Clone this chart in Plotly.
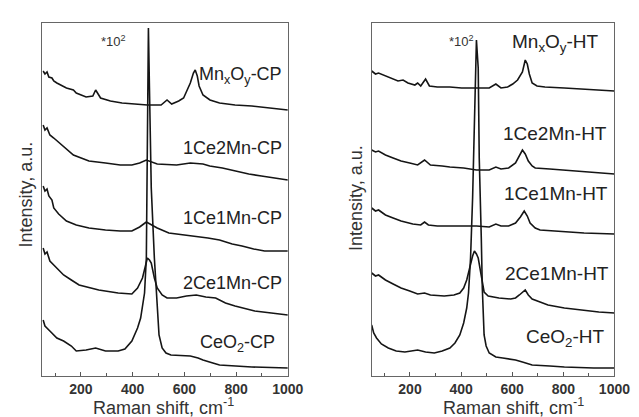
import plotly.graph_objects as go

# ---------------- data (Raman shift in cm-1, intensity in arbitrary offset units) ----------------
# Left panel (CP samples)
mn_cp_x = [54, 61, 69, 76, 88, 95, 107, 144, 171, 182, 220, 246, 257, 269, 276, 314, 359, 408, 457, 510,
           533, 551, 578, 597, 612, 623, 635, 642, 650, 657, 672, 699, 736, 796, 861, 936, 1000]
mn_cp_y = [305, 302, 304, 299, 298, 295, 293, 288, 286, 283, 279, 280, 286, 280, 278, 275, 273, 272, 271, 271,
           276, 272, 275, 278, 286, 293, 303, 306, 300, 290, 281, 276, 273, 271, 270, 268, 266]

ce2mn_cp_x = [54, 61, 69, 80, 95, 118, 144, 171, 201, 231, 295, 352, 397, 427, 453, 472, 495, 570, 623, 672,
              698, 747, 796, 849, 898, 955, 1000]
ce2mn_cp_y = [251, 246, 248, 241, 238, 233, 227, 221, 218, 215, 213, 211, 211, 213, 216, 214, 212, 211, 213, 212,
              210, 208, 205, 202, 200, 198, 196]

ce1mn_cp_x = [54, 61, 69, 76, 88, 95, 114, 144, 182, 231, 295, 352, 397, 427, 453, 472, 495, 540, 597, 646,
              691, 736, 785, 823, 868, 910, 1000]
ce1mn_cp_y = [190, 185, 187, 180, 176, 168, 162, 155, 151, 148, 146, 145, 145, 149, 154, 151, 148, 143, 141, 140,
              138, 136, 132, 130, 127, 125, 125]

ce2mn1_cp_x = [54, 61, 69, 80, 95, 133, 163, 193, 269, 344, 397, 419, 438, 449, 457, 465, 472, 484, 495, 514,
               533, 570, 608, 646, 683, 721, 759, 796, 872, 936, 1000]
ce2mn1_cp_y = [128, 122, 124, 115, 111, 101, 96, 91, 86, 83, 82, 88, 98, 110, 118, 116, 113, 98, 88, 81,
               78, 78, 80, 81, 79, 78, 73, 70, 65, 63, 61]

ceo2_cp_x = [54, 61, 80, 107, 133, 163, 182, 220, 257, 295, 344, 370, 397, 419, 431, 438, 446, 453, 457, 461,
             465, 472, 484, 495, 502, 514, 529, 548, 623, 653, 672, 710, 736, 861, 1000]
ceo2_cp_y = [56, 50, 45, 38, 35, 30, 25, 26, 28, 25, 25, 27, 35, 48, 58, 68, 83, 118, 218, 348,
             288, 188, 118, 68, 41, 28, 23, 21, 20, 18, 16, 13, 11, 9, 8]

# Right panel (HT samples)
mn_ht_x = [50, 65, 77, 104, 134, 153, 173, 192, 219, 230, 242, 261, 276, 307, 356, 402, 448, 510, 536, 556,
           582, 602, 621, 640, 651, 659, 667, 678, 697, 728, 804, 881, 931, 1000]
mn_ht_y = [305, 302, 303, 300, 297, 295, 296, 293, 291, 293, 290, 297, 290, 289, 289, 288, 288, 288, 292, 288,
           289, 292, 296, 304, 316, 312, 302, 293, 290, 289, 288, 287, 286, 285]

ce2mn_ht_x = [50, 65, 77, 104, 134, 165, 199, 230, 257, 280, 326, 356, 410, 460, 510, 536, 556, 586, 613, 628,
              640, 651, 663, 678, 690, 747, 804, 881, 1000]
ce2mn_ht_y = [226, 224, 225, 221, 218, 215, 213, 211, 216, 211, 210, 209, 208, 206, 206, 209, 207, 208, 213, 220,
              226, 222, 215, 210, 208, 207, 206, 204, 202]

ce1mn_ht_x = [50, 65, 77, 104, 134, 165, 211, 242, 257, 272, 307, 356, 410, 460, 510, 536, 556, 586, 613, 632,
              647, 659, 670, 690, 709, 766, 804, 881, 1000]
ce1mn_ht_y = [168, 165, 166, 161, 158, 155, 152, 151, 154, 151, 150, 150, 150, 150, 149, 152, 150, 150, 153, 159,
              165, 160, 153, 148, 146, 145, 144, 143, 142]

ce2mn1_ht_x = [50, 65, 77, 104, 134, 165, 199, 230, 257, 280, 334, 372, 395, 410, 422, 433, 445, 452, 460, 467,
               475, 483, 490, 506, 548, 594, 613, 628, 644, 651, 663, 678, 709, 740, 804, 870, 939, 1000]
ce2mn1_ht_y = [103, 100, 101, 96, 92, 88, 85, 82, 83, 81, 80, 81, 83, 88, 96, 108, 120, 125, 122, 118,
               106, 92, 84, 80, 78, 77, 78, 81, 85, 86, 81, 77, 74, 71, 68, 66, 64, 63]

ceo2_ht_x = [50, 58, 69, 88, 115, 146, 180, 203, 230, 261, 295, 326, 356, 376, 395, 410, 422, 429, 437, 445,
             452, 460, 467, 471, 479, 483, 490, 498, 510, 536, 563, 613, 640, 678, 747, 804, 919, 1000]
ceo2_ht_y = [51, 43, 38, 32, 28, 25, 24, 25, 26, 24, 23, 25, 28, 33, 41, 53, 68, 83, 118, 178,
             268, 336, 308, 218, 138, 88, 41, 30, 23, 19, 18, 16, 14, 11, 10, 9, 8, 8]

left_names = ["Mn<sub>x</sub>O<sub>y</sub>-CP", "1Ce2Mn-CP", "1Ce1Mn-CP", "2Ce1Mn-CP", "CeO<sub>2</sub>-CP"]
right_names = ["Mn<sub>x</sub>O<sub>y</sub>-HT", "1Ce2Mn-HT", "1Ce1Mn-HT", "2Ce1Mn-HT", "CeO<sub>2</sub>-HT"]
x_ticks = [200, 400, 600, 800, 1000]

left_series = [(mn_cp_x, mn_cp_y), (ce2mn_cp_x, ce2mn_cp_y), (ce1mn_cp_x, ce1mn_cp_y),
               (ce2mn1_cp_x, ce2mn1_cp_y), (ceo2_cp_x, ceo2_cp_y)]
right_series = [(mn_ht_x, mn_ht_y), (ce2mn_ht_x, ce2mn_ht_y), (ce1mn_ht_x, ce1mn_ht_y),
                (ce2mn1_ht_x, ce2mn1_ht_y), (ceo2_ht_x, ceo2_ht_y)]

# ---------------- figure ----------------
W, H = 639, 417
FONT = "Liberation Sans, Arial, sans-serif"
fig = go.Figure()
for (xs, ys) in left_series:
    fig.add_trace(go.Scatter(x=xs, y=ys, mode="lines", xaxis="x", yaxis="y",
                             line=dict(color="#151515", width=1.6), showlegend=False, hoverinfo="skip"))
for (xs, ys) in right_series:
    fig.add_trace(go.Scatter(x=xs, y=ys, mode="lines", xaxis="x2", yaxis="y2",
                             line=dict(color="#151515", width=1.6), showlegend=False, hoverinfo="skip"))

def px(p):
    return p / W

def py(p):
    return 1 - p / H

xaxis_common = dict(range=[50, 1000], tickvals=x_ticks, ticks="inside", ticklen=4, tickcolor="#555",
                    showline=True, mirror=True, linecolor="#666", linewidth=1, showgrid=False, zeroline=False,
                    tickfont=dict(family=FONT, size=14, color="#333", weight="bold"),
                    minor=dict(dtick=100, tick0=0, ticks="inside", ticklen=3, tickcolor="#555"),
                    fixedrange=True)
yaxis_common = dict(range=[0, 353], showticklabels=False, ticks="", showline=True, mirror=True,
                    linecolor="#666", linewidth=1, showgrid=False, zeroline=False, fixedrange=True)

fig.update_layout(
    width=W, height=H, margin=dict(l=0, r=0, t=0, b=0),
    paper_bgcolor="white", plot_bgcolor="white",
    xaxis=dict(domain=[px(35), px(287)], anchor="y", **xaxis_common),
    yaxis=dict(domain=[py(368), py(15)], anchor="x", **yaxis_common),
    xaxis2=dict(domain=[px(373), px(622)], anchor="y2", **xaxis_common),
    yaxis2=dict(domain=[py(368), py(15)], anchor="x2", **yaxis_common),
)

ann = []
lab_font_l = dict(family=FONT, size=18, color="#222")
lab_font_r = dict(family=FONT, size=19, color="#222")
# left labels (right edge x, centre y)
for name, xr, yc in zip(left_names, [985, 985, 985, 985, 959], [301, 228, 158, 93, 33]):
    ann.append(dict(x=xr, y=yc, xref="x", yref="y", text=name, showarrow=False, xanchor="right",
                    yanchor="middle", font=lab_font_l))
for name, xr, yc in zip(right_names, [946, 977, 981, 988, 969], [333, 243, 183, 103, 38]):
    ann.append(dict(x=xr, y=yc, xref="x2", yref="y2", text=name, showarrow=False, xanchor="right",
                    yanchor="middle", font=lab_font_r))
ann.append(dict(x=px(108), y=py(33), xref="paper", yref="paper", text="*10<sup>2</sup>", showarrow=False,
                xanchor="center", yanchor="middle", font=dict(family=FONT, size=13, color="#333")))
ann.append(dict(x=px(480), y=py(33), xref="paper", yref="paper", text="*10<sup>2</sup>", showarrow=False,
                xanchor="right", yanchor="middle", font=dict(family=FONT, size=13, color="#333")))
# axis titles
for xc in [160, 518]:
    ann.append(dict(x=px(xc), y=py(398), xref="paper", yref="paper", text="Raman shift, cm<sup>-1</sup>",
                    showarrow=False, xanchor="center", yanchor="middle",
                    font=dict(family=FONT, size=18, color="#333")))
for xc, yc in [(18, 187), (357, 190)]:
    ann.append(dict(x=px(xc), y=py(yc), xref="paper", yref="paper", text="Intensity, a.u.", textangle=-90,
                    showarrow=False, xanchor="center", yanchor="middle",
                    font=dict(family=FONT, size=18, color="#333")))
fig.update_layout(annotations=ann)

fig.write_html("out.html")
